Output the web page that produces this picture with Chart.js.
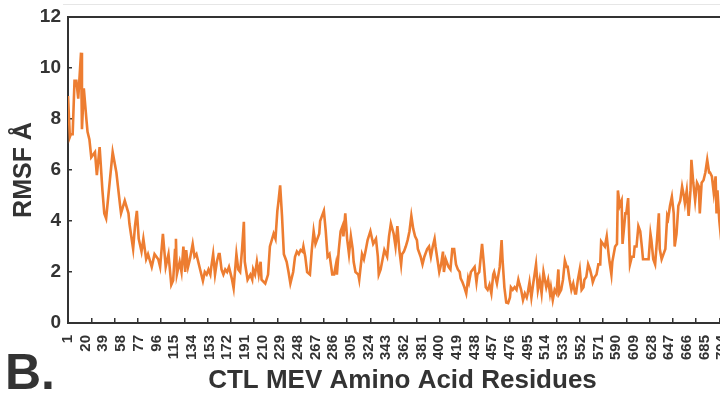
<!DOCTYPE html>
<html>
<head>
<meta charset="utf-8">
<title>RMSF CTL MEV</title>
<script src="https://cdn.jsdelivr.net/npm/chart.js@4.4.0/dist/chart.umd.min.js"></script>
<style>
    html, body { margin: 0; padding: 0; background: #fff; width: 720px; height: 394px; overflow: hidden; }
    #wrap { position: relative; width: 740px; height: 394px; }
    #lineaSup { position: absolute; left: 63px; top: 4px; width: 680px; height: 1px; background: #e6e6e6; }
    #panel { position: absolute; left: 5px; top: 347px; font: bold 50px "Liberation Sans", Arial, sans-serif; line-height: 50px; color: #333; }
</style>
</head>
<body>
<div id="wrap">
    <canvas id="graficaRmsf"></canvas>
    <div id="lineaSup"></div>
    <div id="panel">B.</div>
</div>
<script>
const residues = [
    1, 3, 4, 6, 8, 10, 12, 13, 15, 16, 18, 21, 22, 24, 26, 30, 32, 35, 38, 40,
    42, 46, 49, 53, 57, 58, 62, 66, 67, 69, 71, 73, 75, 77, 80, 82, 85, 87, 91, 94,
    98, 100, 103, 106, 109, 112, 114, 116, 117, 118, 121, 123, 125, 127, 128, 130, 132, 135, 137, 139,
    143, 146, 148, 150, 152, 154, 155, 157, 159, 161, 163, 164, 166, 168, 170, 172, 174, 177, 179, 182,
    184, 186, 188, 190, 191, 194, 197, 199, 200, 202, 204, 206, 208, 209, 213, 216, 218, 220, 222, 224,
    226, 227, 229, 231, 233, 235, 236, 238, 240, 243, 245, 247, 249, 251, 253, 254, 256, 258, 261, 263,
    265, 267, 269, 271, 272, 274, 276, 278, 280, 282, 285, 287, 289, 290, 292, 294, 296, 297, 299, 301,
    303, 305, 307, 308, 310, 313, 314, 317, 319, 321, 323, 326, 329, 332, 334, 335, 337, 341, 344, 346,
    348, 351, 353, 355, 357, 359, 360, 362, 364, 366, 368, 370, 372, 374, 376, 377, 380, 382, 384, 387,
    389, 391, 393, 395, 396, 398, 400, 402, 404, 405, 407, 410, 412, 414, 416, 418, 420, 422, 423, 425,
    427, 429, 431, 432, 434, 436, 438, 440, 441, 443, 446, 448, 450, 452, 454, 456, 458, 459, 462, 465,
    467, 468, 470, 472, 474, 476, 477, 479, 481, 483, 485, 486, 488, 490, 492, 494, 495, 497, 499, 501,
    502, 504, 506, 508, 510, 512, 513, 515, 517, 519, 520, 522, 524, 526, 528, 529, 531, 533, 535, 537,
    538, 540, 542, 544, 546, 547, 549, 551, 553, 555, 556, 558, 560, 562, 564, 565, 567, 569, 571, 573,
    574, 576, 578, 580, 582, 583, 585, 586, 589, 591, 592, 594, 596, 597, 600, 601, 603, 605, 607, 609,
    610, 612, 614, 616, 618, 619, 621, 623, 625, 627, 628, 630, 632, 634, 636, 637, 639, 641, 643, 645,
    646, 648, 650, 652, 653, 655, 657, 659, 661, 663, 664, 666, 668, 670, 671, 673, 675, 677, 679, 680,
    682, 684, 686, 688, 690, 691, 693, 695, 697, 698, 699, 701, 703, 704, 706
];

const rmsf = [
    8.9, 7.3, 7.4, 7.4, 9.5, 9.5, 8.8, 9.4, 10.6, 7.6, 9.2, 7.9, 7.5, 7.2, 6.5, 6.7, 5.8, 6.9, 5.2, 4.3,
    4.1, 5.6, 6.7, 5.9, 4.6, 4.3, 4.8, 4.3, 3.9, 3.4, 2.9, 3.8, 4.4, 3.3, 2.8, 3.3, 2.5, 2.7, 2.2, 2.7,
    2.5, 2.2, 3.5, 2.2, 2.7, 1.5, 1.67, 2.86, 3.3, 1.9, 2.4, 2.0, 3.0, 2.0, 2.86, 2.2, 2.5, 3.1, 2.6, 2.7,
    2.1, 1.65, 2.0, 1.9, 2.1, 1.9, 2.2, 2.7, 1.9, 2.4, 2.7, 2.7, 2.1, 1.9, 2.1, 2.0, 2.2, 1.75, 1.36, 2.7,
    2.1, 2.0, 2.86, 3.97, 2.4, 1.7, 1.9, 1.7, 2.1, 1.9, 2.4, 1.9, 2.4, 1.7, 1.55, 1.9, 3.0, 3.25, 3.5, 3.3,
    4.4, 4.7, 5.4, 4.2, 2.7, 2.5, 2.4, 2.0, 1.55, 2.0, 2.6, 2.8, 2.7, 2.86, 2.8, 3.0, 2.6, 2.0, 1.9, 2.86,
    3.6, 3.1, 3.3, 3.5, 4.0, 4.2, 4.4, 3.6, 2.6, 2.7, 1.9, 1.9, 2.3, 1.9, 2.86, 3.6, 3.8, 3.4, 4.3, 3.3,
    2.7, 3.4, 2.9, 2.4, 2.0, 1.9, 1.7, 2.7, 2.5, 2.86, 3.25, 3.6, 3.1, 3.3, 2.6, 1.9, 2.1, 2.86, 2.6, 3.4,
    3.9, 3.5, 3.0, 3.8, 2.9, 2.3, 2.7, 2.8, 3.0, 3.25, 3.6, 4.2, 3.7, 3.4, 3.25, 2.9, 2.6, 2.3, 2.6, 2.9,
    3.0, 2.6, 3.0, 3.3, 3.0, 2.5, 2.0, 2.3, 2.8, 2.0, 2.5, 2.2, 2.1, 2.9, 2.9, 2.3, 2.1, 2.0, 1.75, 1.6,
    1.4, 1.16, 1.75, 1.6, 2.0, 2.1, 2.2, 1.6, 1.9, 2.0, 3.1, 2.3, 1.4, 1.3, 1.5, 1.16, 1.9, 2.0, 1.55, 2.2,
    3.25, 2.5, 1.4, 0.8, 0.78, 1.0, 1.4, 1.3, 1.4, 1.3, 1.7, 1.55, 1.3, 0.9, 1.16, 1.0, 1.16, 1.6, 1.0, 1.55,
    1.8, 2.3, 1.3, 1.7, 1.16, 2.0, 1.8, 1.4, 1.7, 1.16, 1.4, 0.9, 1.3, 1.16, 2.1, 1.16, 1.3, 1.7, 2.45, 2.2,
    2.2, 1.7, 1.3, 1.55, 1.16, 1.16, 1.7, 2.1, 1.3, 1.4, 1.7, 1.8, 2.3, 2.1, 1.8, 1.6, 1.8, 1.9, 2.3, 2.3,
    3.2, 3.1, 3.0, 3.4, 2.7, 2.4, 1.9, 2.4, 3.0, 3.1, 5.2, 4.6, 4.8, 3.1, 4.3, 4.3, 4.9, 2.3, 2.6, 2.6,
    3.0, 3.0, 3.8, 3.6, 2.9, 2.5, 2.5, 2.5, 2.5, 3.5, 3.25, 2.5, 2.3, 3.25, 4.3, 2.9, 2.5, 2.7, 2.9, 4.2,
    4.1, 4.6, 4.95, 4.3, 3.0, 3.5, 4.6, 4.8, 5.35, 4.95, 4.7, 5.2, 4.2, 5.2, 6.4, 5.5, 4.8, 5.5, 5.35, 4.3,
    5.5, 5.6, 5.9, 6.4, 5.9, 5.9, 5.75, 5.1, 5.75, 4.3, 5.2, 4.0, 3.25, 3.9, 3.3
];

const xTickLabels = [
    1, 20, 39, 58, 77, 96, 115, 134, 153, 172, 191, 210, 229, 248, 267, 286, 305, 324, 343,
    362, 381, 400, 419, 438, 457, 476, 495, 514, 533, 552, 571, 590, 609, 628, 647, 666, 685, 704
];

const xTickMarks = [
    26, 51, 76, 101, 126, 151, 176, 201, 226, 251, 276, 301, 326, 351,
    376, 401, 426, 451, 476, 501, 526, 551, 576, 601, 626, 651, 676, 701
];

const yTicks = [0, 2, 4, 6, 8, 10, 12];

const fuente = '"Liberation Sans", Arial, Helvetica, sans-serif';
const gris = "#333";

// sin relleno extra de las escalas: el area la fija layout.padding
function sinRelleno(s) {
    s.paddingTop = 0;
    s.paddingBottom = 0;
    s.paddingLeft = 0;
    s.paddingRight = 0;
}

function iniciarGrafica() {
    const ctx = document.getElementById("graficaRmsf").getContext("2d");

    const puntos = residues.map((r, i) => ({ x: r, y: rmsf[i] }));

    new Chart(ctx, {
        type: "line",
        data: {
            datasets: [{
                label: "RMSF",
                data: puntos,
                borderColor: "#ED7D31",
                borderWidth: 2.6,
                pointRadius: 0,
                tension: 0,
                fill: false,
                xAxisID: "x",
                yAxisID: "y"
            }]
        },
        options: {
            responsive: true,
            maintainAspectRatio: false,
            animation: false,
            layout: { padding: { top: 17, right: 3, bottom: 0, left: 0 } },
            plugins: {
                legend: { display: false },
                tooltip: { enabled: false }
            },
            scales: {
                y: {
                    position: "left",
                    min: 0,
                    max: 12,
                    afterBuildTicks: s => { s.ticks = yTicks.map(v => ({ value: v })); },
                    afterFit: s => { s.width = 68; sinRelleno(s); },
                    ticks: { color: gris, padding: 11, font: { family: fuente, size: 19, weight: "bold" } },
                    // marcas hacia dentro
                    grid: { display: true, drawOnChartArea: false, drawTicks: true, tickLength: -4, color: gris, lineWidth: 1.5 },
                    border: { display: true, color: gris, width: 2 },
                    title: {
                        display: true,
                        text: "RMSF Å",
                        color: gris,
                        padding: { top: 12, bottom: 0 },
                        font: { family: fuente, size: 25, weight: "bold", lineHeight: 1 }
                    }
                },
                xMarks: {
                    type: "linear",
                    position: "bottom",
                    weight: 0,
                    min: 1,
                    max: 720,
                    afterBuildTicks: s => { s.ticks = xTickMarks.map(v => ({ value: v })); },
                    afterFit: s => { s.height = 0; sinRelleno(s); },
                    ticks: { display: false },
                    grid: { display: true, drawOnChartArea: false, drawTicks: true, tickLength: -5, color: gris, lineWidth: 1.5 },
                    border: { display: true, color: gris, width: 2 }
                },
                x: {
                    type: "linear",
                    position: "bottom",
                    weight: 1,
                    min: 1,
                    max: 720,
                    afterBuildTicks: s => { s.ticks = xTickLabels.map(v => ({ value: v })); },
                    afterFit: s => { s.height = 71; sinRelleno(s); },
                    ticks: {
                        autoSkip: false,
                        minRotation: 90,
                        maxRotation: 90,
                        padding: 12,
                        color: gris,
                        font: { family: fuente, size: 15, weight: "bold" }
                    },
                    grid: { display: false, drawTicks: false },
                    border: { display: false },
                    title: {
                        display: true,
                        text: "CTL MEV Amino Acid Residues",
                        color: gris,
                        padding: 0,
                        font: { family: fuente, size: 26, weight: "bold", lineHeight: 1 }
                    }
                },
                xTop: {
                    type: "linear",
                    position: "top",
                    min: 1,
                    max: 720,
                    afterFit: s => { sinRelleno(s); },
                    ticks: { display: false },
                    grid: { display: false, drawTicks: false },
                    border: { display: true, color: gris, width: 2 }
                }
            }
        }
    });
}

document.addEventListener("DOMContentLoaded", iniciarGrafica);
</script>
</body>
</html>
